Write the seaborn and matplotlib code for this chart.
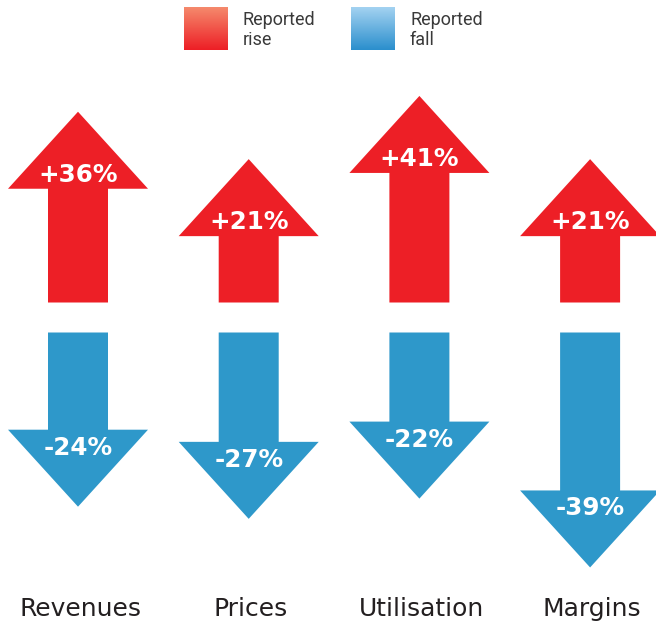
import numpy as np
import matplotlib
matplotlib.use("Agg")
import matplotlib.pyplot as plt
from matplotlib.patches import Polygon
import seaborn as sns

# data
categories = ["Revenues", "Prices", "Utilisation", "Margins"]
rise = [36, 21, 41, 21]
fall = [-24, -27, -22, -39]
legend_labels = [["Reported", "rise"], ["Reported", "fall"]]

sns.set_theme(style="white")
plt.rcParams['font.family'] = ['DejaVu Sans']

red = "#ed1f26"
blue = "#2e98ca"

fig = plt.figure(figsize=(6.56, 6.25), dpi=100)
ax = fig.add_axes([0, 0, 1, 1])
ax.set_xlim(0, 656)
ax.set_ylim(625, 0)
ax.axis("off")

# layout (pixel-like units)
x0, dx = 78, 170.7
up_base, down_top = 302.5, 332.5
up_scale, down_scale = 3.16, 4.05
head_h, head_w, shaft_w = 77, 70, 30


def arrow(cx, base, length, sign, color):
    # sign = -1 points up (screen y inverted), +1 points down
    y1 = base + sign * length
    tip = y1 + sign * head_h
    pts = [(cx - shaft_w, base), (cx - shaft_w, y1), (cx - head_w, y1),
           (cx, tip), (cx + head_w, y1), (cx + shaft_w, y1), (cx + shaft_w, base)]
    ax.add_patch(Polygon(pts, closed=True, facecolor=color, edgecolor="none"))
    return y1


for i, cat in enumerate(categories):
    cx = x0 + dx * i
    y1 = arrow(cx, up_base, rise[i] * up_scale, -1, red)
    ax.text(cx, y1 - 7, "+%d%%" % rise[i], color="white", fontsize=17.7,
            fontweight="bold", ha="center", va="baseline")
    y2 = arrow(cx, down_top, -fall[i] * down_scale, 1, blue)
    ax.text(cx, y2 + 25, "%d%%" % fall[i], color="white", fontsize=17.7,
            fontweight="bold", ha="center", va="baseline")
    ax.text(cx + 2, 616, cat, color="#231f20", fontsize=18,
            ha="center", va="baseline")

# legend with gradient swatches
grads = [("#f5896c", red), ("#a3d2f1", "#2b8fcd")]
lx = [184, 351]
for (top, bot), x, lab in zip(grads, lx, legend_labels):
    c1 = np.array(matplotlib.colors.to_rgb(top))
    c2 = np.array(matplotlib.colors.to_rgb(bot))
    t = np.linspace(0, 1, 50)[:, None, None]
    img = c1 * (1 - t) + c2 * t
    img = np.repeat(img, 2, axis=1)
    ax.imshow(img, extent=(x, x + 44, 50, 7), aspect="auto", zorder=2)
    for k, line in enumerate(lab):
        ax.text(x + 59, 25 + 20 * k, line, color="#3a3a3a", fontsize=13,
                family=["Roboto", "DejaVu Sans"], ha="left", va="baseline")

ax.set_xlim(0, 656)
ax.set_ylim(625, 0)
fig.savefig("out.png", dpi=100)
